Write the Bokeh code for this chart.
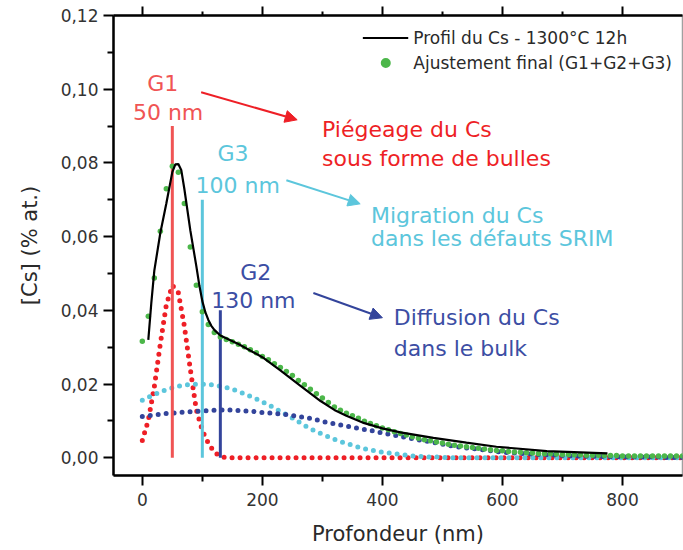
from bokeh.plotting import figure
from bokeh.models import (Range1d, FixedTicker, LinearAxis, CustomJSTickFormatter,
                          Label, Arrow, NormalHead, Legend, LegendItem)
from bokeh.embed import file_html
from bokeh.resources import INLINE

# ---------------- data ----------------
depth_nm = list(range(0, 901, 10))

g1_bubbles = [
    0.0047, 0.0102, 0.0193, 0.0309, 0.0415, 0.0468, 0.0448, 0.0358, 0.0240, 0.0130,
    0.0074, 0.0040, 0.0015, 0.0004, 0.0, 0.0, 0.0, 0.0, 0.0, 0.0,
    0.0, 0.0, 0.0, 0.0, 0.0, 0.0, 0.0, 0.0, 0.0, 0.0,
    0.0, 0.0, 0.0, 0.0, 0.0, 0.0, 0.0, 0.0, 0.0, 0.0,
    0.0, 0.0, 0.0, 0.0, 0.0, 0.0, 0.0, 0.0, 0.0, 0.0,
    0.0, 0.0, 0.0, 0.0, 0.0, 0.0, 0.0, 0.0, 0.0, 0.0,
    0.0, 0.0, 0.0, 0.0, 0.0, 0.0, 0.0, 0.0, 0.0, 0.0,
    0.0, 0.0, 0.0, 0.0, 0.0, 0.0, 0.0, 0.0, 0.0, 0.0,
    0.0, 0.0, 0.0, 0.0, 0.0, 0.0, 0.0, 0.0, 0.0, 0.0,
    0.0,
]

g3_srim = [
    0.0156, 0.0164, 0.0171, 0.0179, 0.0185, 0.0190, 0.0194, 0.0197, 0.0199, 0.0200,
    0.0200, 0.0199, 0.0197, 0.0194, 0.0191, 0.0186, 0.0180, 0.0174, 0.0167, 0.0160,
    0.0152, 0.0144, 0.0135, 0.0126, 0.0117, 0.0108, 0.0098, 0.0088, 0.0079, 0.0071,
    0.0064, 0.0057, 0.0050, 0.0044, 0.0039, 0.0034, 0.0029, 0.0025, 0.0021, 0.0018,
    0.0015, 0.0013, 0.0011, 0.0009, 0.0007, 0.0005, 0.0004, 0.0003, 0.0002, 0.0002,
    0.0001, 0.0001, 0.0, 0.0, 0.0, 0.0, 0.0, 0.0, 0.0, 0.0,
    0.0, 0.0, 0.0, 0.0, 0.0, 0.0, 0.0, 0.0, 0.0, 0.0,
    0.0, 0.0, 0.0, 0.0, 0.0, 0.0, 0.0, 0.0, 0.0, 0.0,
    0.0, 0.0, 0.0, 0.0, 0.0, 0.0, 0.0, 0.0, 0.0, 0.0,
    0.0,
]

g2_bulk = [
    0.0112, 0.0114, 0.0116, 0.0118, 0.0120, 0.0121, 0.0123, 0.0124, 0.0125, 0.0126,
    0.0127, 0.0128, 0.0129, 0.0130, 0.0130, 0.0129, 0.0128, 0.0127, 0.0126, 0.0125,
    0.0123, 0.0122, 0.0120, 0.0119, 0.0117, 0.0115, 0.0112, 0.0110, 0.0107, 0.0103,
    0.0099, 0.0095, 0.0092, 0.0089, 0.0086, 0.0083, 0.0080, 0.0077, 0.0074, 0.0071,
    0.0067, 0.0064, 0.0061, 0.0058, 0.0055, 0.0052, 0.0049, 0.0046, 0.0043, 0.0040,
    0.0037, 0.0034, 0.0031, 0.0029, 0.0027, 0.0025, 0.0023, 0.0021, 0.0019, 0.0017,
    0.0016, 0.0014, 0.0013, 0.0012, 0.0011, 0.0010, 0.0009, 0.0008, 0.0008, 0.0007,
    0.0006, 0.0006, 0.0005, 0.0005, 0.0004, 0.0004, 0.0004, 0.0003, 0.0003, 0.0003,
    0.0003, 0.0002, 0.0002, 0.0002, 0.0002, 0.0002, 0.0002, 0.0001, 0.0001, 0.0001,
    0.0001,
]

fit_total = [
    0.0316, 0.0384, 0.0488, 0.0615, 0.0730, 0.0791, 0.0775, 0.0690, 0.0572, 0.0468,
    0.0396, 0.0362, 0.0340, 0.0328, 0.0321, 0.0315, 0.0308, 0.0301, 0.0293, 0.0285,
    0.0275, 0.0266, 0.0255, 0.0245, 0.0234, 0.0223, 0.0210, 0.0198, 0.0186, 0.0174,
    0.0162, 0.0150, 0.0138, 0.0129, 0.0121, 0.0114, 0.0107, 0.0099, 0.0093, 0.0087,
    0.0081, 0.0076, 0.0071, 0.0066, 0.0062, 0.0057, 0.0053, 0.0049, 0.0046, 0.0043,
    0.0040, 0.0037, 0.0034, 0.0032, 0.0030, 0.0028, 0.0026, 0.0024, 0.0022, 0.0020,
    0.0019, 0.0017, 0.0016, 0.0015, 0.0014, 0.0013, 0.0012, 0.0011, 0.0011, 0.0010,
    0.0009, 0.0009, 0.0008, 0.0008, 0.0007, 0.0007, 0.0007, 0.0006, 0.0006, 0.0006,
    0.0005, 0.0005, 0.0005, 0.0005, 0.0005, 0.0005, 0.0005, 0.0005, 0.0005, 0.0005,
    0.0005,
]

profile_x = [10, 15, 20, 30, 40, 50, 55, 60, 65, 70, 80, 90, 95, 100, 105, 110, 115, 120,
             130, 160, 200, 230, 263, 297, 320, 340, 370, 400, 430, 485, 540, 590, 674, 775]
profile_y = [0.0320, 0.0420, 0.0508, 0.0610, 0.0690, 0.0775, 0.0796, 0.0797, 0.0780,
             0.0730, 0.0617, 0.0520, 0.0468, 0.0425, 0.0395, 0.0374, 0.0358, 0.0347,
             0.0332, 0.0309, 0.0273, 0.0237, 0.0196, 0.0154, 0.0130, 0.0114, 0.0094,
             0.0080, 0.0069, 0.0054, 0.0041, 0.0030, 0.0018, 0.0012]

peak_centers = [50, 100, 130]
peak_marker_tops = [0.090, 0.070, 0.040]

x_ticks = [0, 200, 400, 600, 800]
x_minor = [100, 300, 500, 700]
y_ticks = [0.0, 0.02, 0.04, 0.06, 0.08, 0.10, 0.12]
y_minor = [0.01, 0.03, 0.05, 0.07, 0.09, 0.11]

# ---------------- style ----------------
FONT = "DejaVu Sans"
RED = "#EE1F26"
RED_LIGHT = "#F05454"
CYAN = "#5CC6DC"
BLUE = "#33449B"
BLUE_TXT = "#3C4EA4"
GREEN = "#4CB74A"
TXT = "#2A2A2A"

p = figure(width=683, height=550, x_range=Range1d(-48, 900), y_range=Range1d(-0.0048, 0.12),
           output_backend="svg", toolbar_location=None,
           min_border_left=113, min_border_right=1, min_border_top=15, min_border_bottom=75)
p.xgrid.visible = False
p.ygrid.visible = False
p.outline_line_color = "#A0A0A0"
p.outline_line_width = 1.5
p.background_fill_color = "white"
p.border_fill_color = "white"

def style_axis(ax):
    ax.axis_line_width = 2.5
    ax.axis_line_color = "black"
    ax.major_tick_line_width = 2
    ax.minor_tick_line_width = 2
    ax.major_tick_line_color = "black"
    ax.minor_tick_line_color = "black"
    ax.major_tick_in = 0
    ax.minor_tick_in = 0
    ax.major_tick_out = 10
    ax.minor_tick_out = 6
    ax.major_label_text_font = FONT
    ax.major_label_text_font_size = "17px"
    ax.major_label_text_color = "#333333"
    ax.axis_label_text_font = FONT
    ax.axis_label_text_font_size = "21px"
    ax.axis_label_text_font_style = "normal"
    ax.axis_label_text_color = TXT

xa = p.xaxis[0]
style_axis(xa)
xa.ticker = FixedTicker(ticks=x_ticks, minor_ticks=x_minor)
xa.axis_label = "Profondeur (nm)"
xa.major_label_standoff = 7
xa.axis_label_standoff = 13

ya = p.yaxis[0]
style_axis(ya)
ya.ticker = FixedTicker(ticks=y_ticks, minor_ticks=y_minor)
ya.formatter = CustomJSTickFormatter(code="return Math.abs(tick).toFixed(2).replace('.', ',');")
ya.axis_label = "[Cs] (% at.)"
ya.major_label_standoff = 5
ya.axis_label_standoff = 16

top = LinearAxis(ticker=FixedTicker(ticks=x_ticks, minor_ticks=x_minor),
                 formatter=CustomJSTickFormatter(code="return '';"))
style_axis(top)
top.major_tick_out = 9
top.minor_tick_out = 4
top.major_label_standoff = 0
top.major_label_text_font_size = "0px"
p.add_layout(top, "above")

# ---------------- glyphs ----------------
p.line(depth_nm, g1_bubbles, line_color=RED, line_width=5, line_dash="0 8", line_cap="round")
p.line(depth_nm, g3_srim, line_color=CYAN, line_width=5, line_dash="0 8", line_cap="round")
p.line(depth_nm, g2_bulk, line_color=BLUE, line_width=5, line_dash="0 8", line_cap="round")

p.segment(x0=peak_centers, y0=[0, 0, 0], x1=peak_centers, y1=peak_marker_tops,
          line_color=[RED_LIGHT, CYAN, BLUE], line_width=3)

r_fit = p.scatter(depth_nm, fit_total, size=5.5, fill_color=GREEN, line_color=None)
r_prof = p.line(profile_x, profile_y, line_color="black", line_width=2.2)

# ---------------- legend ----------------
legend = Legend(items=[LegendItem(label="Profil du Cs - 1300°C 12h", renderers=[r_prof]),
                       LegendItem(label="Ajustement final (G1+G2+G3)", renderers=[r_fit])],
                location="top_right", margin=5, padding=5, spacing=0,
                glyph_width=46, glyph_height=25, label_height=25, label_standoff=5,
                label_text_font=FONT, label_text_font_size="17px", label_text_color=TXT,
                border_line_alpha=0, background_fill_alpha=0)
p.add_layout(legend)

# ---------------- annotations ----------------
def lab(x, y, text, color, align="left"):
    p.add_layout(Label(x=x, y=y, text=text, text_color=color, text_font=FONT,
                       text_font_size="22px", text_align=align, text_baseline="alphabetic"))

lab(34, 0.1015, "G1", RED_LIGHT, "center")
lab(43, 0.0938, "50 nm", RED_LIGHT, "center")
lab(151, 0.0825, "G3", CYAN, "center")
lab(159, 0.0739, "100 nm", CYAN, "center")
lab(189, 0.0504, "G2", BLUE_TXT, "center")
lab(185, 0.0427, "130 nm", BLUE_TXT, "center")
lab(299.5, 0.0890, "Piégeage du Cs", RED)
lab(299.5, 0.0811, "sous forme de bulles", RED)
lab(381, 0.0658, "Migration du Cs", CYAN)
lab(381, 0.0594, "dans les défauts SRIM", CYAN)
lab(419, 0.0382, "Diffusion du Cs", BLUE_TXT)
lab(419, 0.0296, "dans le bulk", BLUE_TXT)

def arrow(x0, y0, x1, y1, color):
    p.add_layout(Arrow(end=NormalHead(size=12, fill_color=color, line_color=color),
                       x_start=x0, y_start=y0, x_end=x1, y_end=y1,
                       line_color=color, line_width=2))

arrow(98, 0.0992, 258, 0.0917, RED)
arrow(240, 0.0753, 363, 0.0689, CYAN)
arrow(285, 0.0447, 400, 0.0380, BLUE)

open("out.html", "w").write(file_html(p, INLINE))
